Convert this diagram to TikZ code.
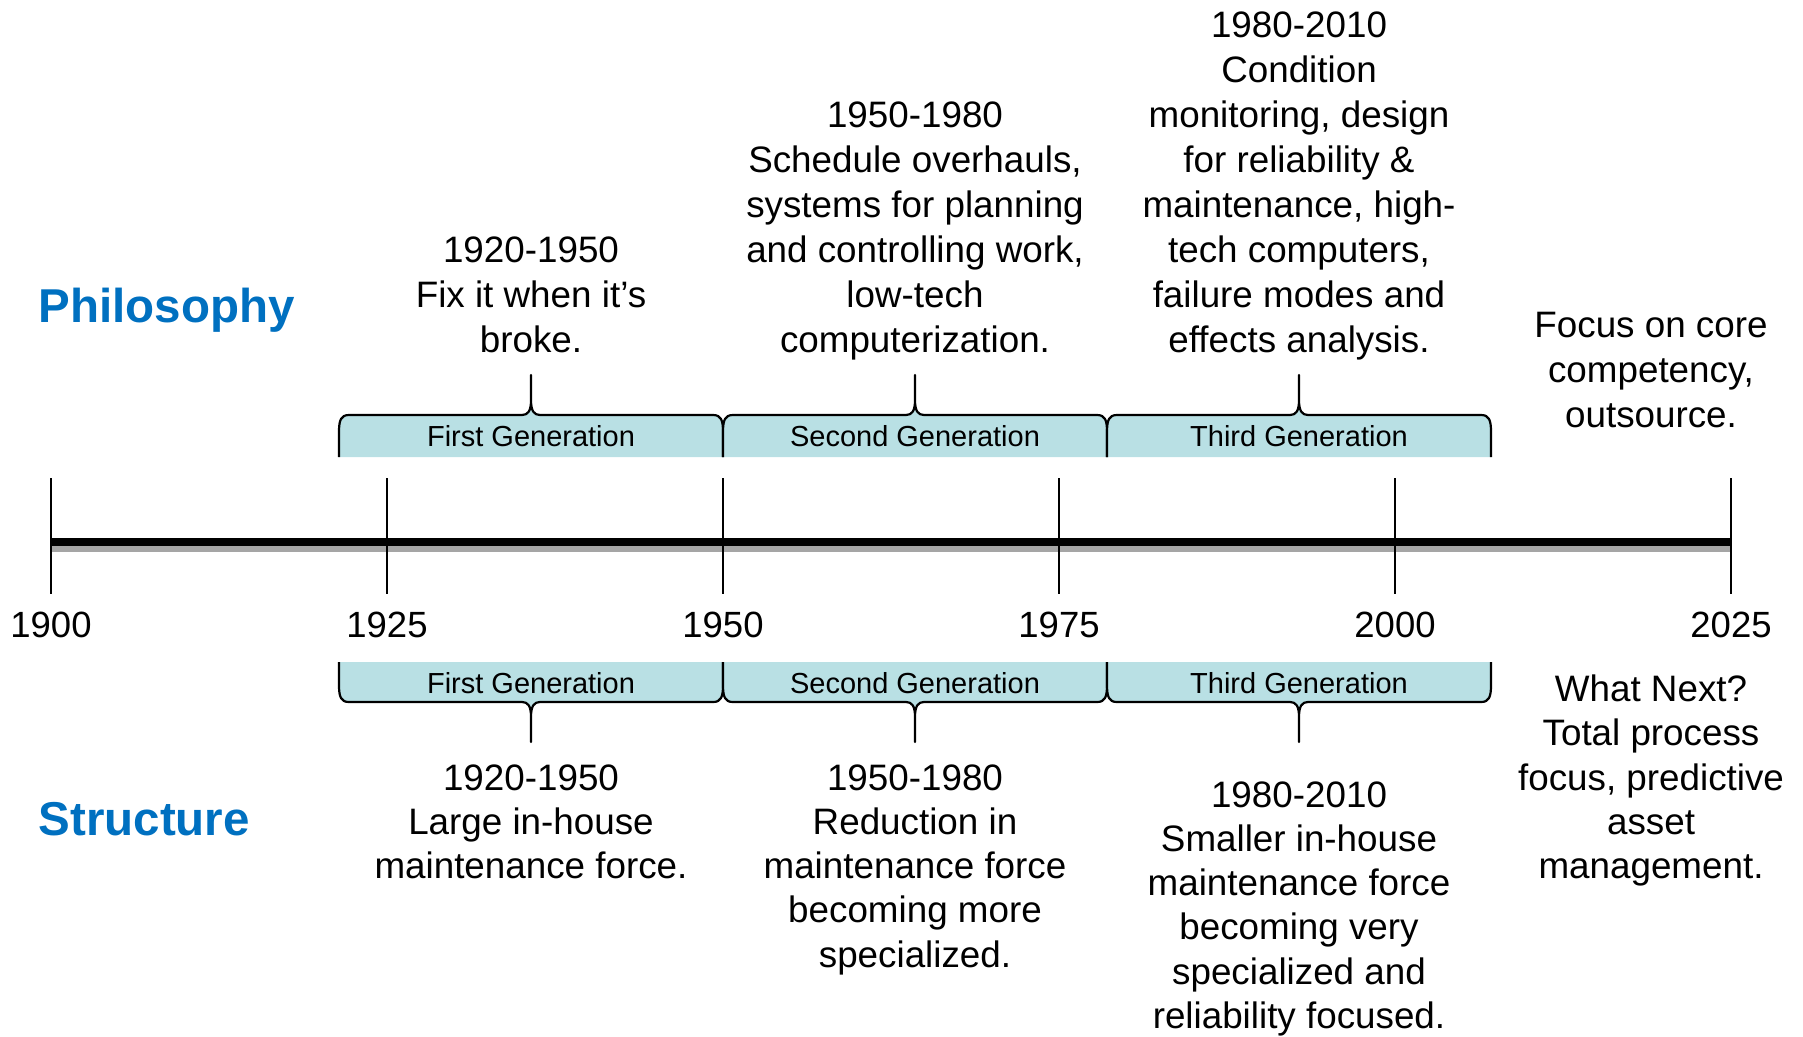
\documentclass[tikz,border=0pt]{standalone}
\usepackage{fontspec}
\setmainfont{Liberation Sans}
\definecolor{genfill}{RGB}{185,224,228}
\definecolor{headblue}{RGB}{0,112,192}
\definecolor{bandgray}{RGB}{165,165,165}
\newcommand\mystrut{\rule{0pt}{40pt}}
\begin{document}
\begin{tikzpicture}[x=1pt,y=-1pt,
  body/.style={font=\fontsize{36.8}{45}\selectfont, align=center, inner sep=0pt, anchor=north},
  bodyb/.style={font=\fontsize{36.8}{44.2}\selectfont, align=center, inner sep=0pt, anchor=north},
  year/.style={font=\fontsize{36.5}{44}\selectfont, inner sep=0pt, anchor=base},
  gen/.style={font=\fontsize{29}{35}\selectfont, inner sep=0pt, anchor=base},
  head/.style={font=\fontsize{47.5}{57}\selectfont\bfseries, text=headblue, inner sep=0pt, anchor=base west},
  tickline/.style={line width=2pt},
  braceline/.style={line width=2.2pt, line join=round},
]
\useasboundingbox (0,0) rectangle (1803,1036);

% main time line
\draw[line width=7.5pt, black] (51,542) -- (1731,542);
\draw[line width=6pt, bandgray] (51,549) -- (1731,549);

% ticks and years
\foreach \x/\yr in {51/1900, 387/1925, 723/1950, 1059/1975, 1395/2000, 1731/2025} {
  \draw[tickline] (\x,478) -- (\x,594);
  \node[year] (y\yr) at (\x,637) {\yr};
}

% generation braces
\foreach \a/\lbl/\n in {339/First/1, 723/Second/2, 1107/Third/3} {
  \pgfmathsetmacro\b{\a+384}
  \pgfmathsetmacro\m{\a+192}
  % top brace
  \path[fill=genfill] (\a,457) -- (\a,432) .. controls (\a,420) and (\a+2,415) .. (\a+10,415)
     -- (\m-9,415) .. controls (\m-3,415) and (\m,411) .. (\m,400) -- (\m,375) -- (\m,400)
     .. controls (\m,411) and (\m+3,415) .. (\m+9,415) -- (\b-10,415)
     .. controls (\b-2,415) and (\b,420) .. (\b,432) -- (\b,457) -- cycle;
  \draw[braceline] (\a,457) -- (\a,432) .. controls (\a,420) and (\a+2,415) .. (\a+10,415)
     -- (\m-9,415) .. controls (\m-3,415) and (\m,411) .. (\m,400) -- (\m,375) -- (\m,400)
     .. controls (\m,411) and (\m+3,415) .. (\m+9,415) -- (\b-10,415)
     .. controls (\b-2,415) and (\b,420) .. (\b,432) -- (\b,457);
  \node[gen] (gt\n) at (\m,446) {\lbl\ Generation};
  % bottom brace
  \path[fill=genfill] (\a,662) -- (\a,685) .. controls (\a,697) and (\a+2,702) .. (\a+10,702)
     -- (\m-9,702) .. controls (\m-3,702) and (\m,706) .. (\m,717) -- (\m,742) -- (\m,717)
     .. controls (\m,706) and (\m+3,702) .. (\m+9,702) -- (\b-10,702)
     .. controls (\b-2,702) and (\b,697) .. (\b,685) -- (\b,662) -- cycle;
  \draw[braceline] (\a,662) -- (\a,685) .. controls (\a,697) and (\a+2,702) .. (\a+10,702)
     -- (\m-9,702) .. controls (\m-3,702) and (\m,706) .. (\m,717) -- (\m,742) -- (\m,717)
     .. controls (\m,706) and (\m+3,702) .. (\m+9,702) -- (\b-10,702)
     .. controls (\b-2,702) and (\b,697) .. (\b,685) -- (\b,662);
  \node[gen] (gb\n) at (\m,693) {\lbl\ Generation};
}

% headers
\node[head] (phil) at (38.5,322) {Philosophy};
\node[head] (struc) at (38.5,835) {Structure};

% philosophy texts
\node[body] (pt1) at (531,222) {\mystrut1920-1950\\Fix it when it’s\\broke.};
\node[body] (pt2) at (915,87) {\mystrut1950-1980\\Schedule overhauls,\\systems for planning\\and controlling work,\\low-tech\\computerization.};
\node[body] (pt3) at (1299,-3) {\mystrut1980-2010\\Condition\\monitoring, design\\for reliability \&\\maintenance, high-\\tech computers,\\failure modes and\\effects analysis.};
\node[body] (pt4) at (1651,297) {\mystrut Focus on core\\competency,\\outsource.};

% structure texts
\node[bodyb] (st1) at (531,750) {\mystrut1920-1950\\Large in-house\\maintenance force.};
\node[bodyb] (st2) at (915,750) {\mystrut1950-1980\\Reduction in\\maintenance force\\becoming more\\specialized.};
\node[bodyb] (st3) at (1299,767) {\mystrut1980-2010\\Smaller in-house\\maintenance force\\becoming very\\specialized and\\reliability focused.};
\node[bodyb] (st4) at (1651,661.5) {\mystrut What Next?\\Total process\\focus, predictive\\asset\\management.};
\end{tikzpicture}
\end{document}
